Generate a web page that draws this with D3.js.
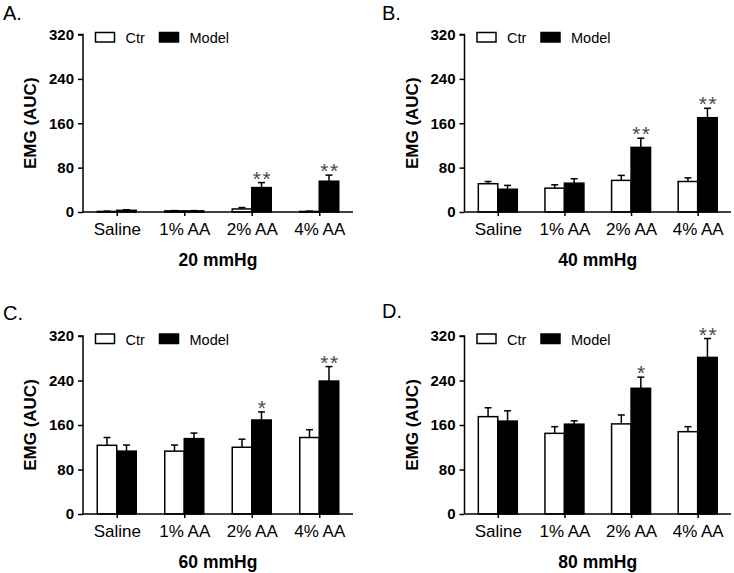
<!DOCTYPE html>
<html>
<head>
<meta charset="utf-8">
<script src="https://cdn.jsdelivr.net/npm/d3@7"></script>
<style>
  body { margin: 0; background: #fff; }
  svg { display: block; font-family: "Liberation Sans", Arial, sans-serif; }
</style>
</head>
<body>
<div id="chart"></div>
<script>
// data
const categories = ['Saline', '1% AA', '2% AA', '4% AA'];
const panelLetters = ['A.', 'B.', 'C.', 'D.'];
const pressures = ['20 mmHg', '40 mmHg', '60 mmHg', '80 mmHg'];
const yTicks = [0, 80, 160, 240, 320];

const ctrMean = [[1, 2, 5.5, 1], [51, 43, 57, 55], [123.5, 113, 120, 137.5], [175, 145, 162, 148]];
const ctrSem = [[0.5, 0.5, 2.5, 0.5], [4, 6, 9, 6.5], [14, 11, 14.5, 14], [16, 12, 16, 9]];
const modelMean = [[3, 2, 44, 55.5], [41, 52, 116.5, 170], [113, 135.5, 169, 239], [167, 161.5, 226, 281.5]];
const modelSem = [[1, 0.5, 9, 11], [7, 8, 16.5, 17], [11, 10, 14.5, 26], [18.5, 6, 20, 34]];
const modelStars = [['', '', '**', '**'], ['', '', '**', '**'], ['', '', '*', '**'], ['', '', '*', '**']];

const W = 734, H = 573;
const barW = 19.5;

// panel frames: left axis x, right end of x axis, y of 0 and 320
const frames = [
    {x0: 83, x1: 353, yb: 212, yt: 34.5, lx: 3, ly: 20},
    {x0: 464.5, x1: 731, yb: 212, yt: 34.5, lx: 382, ly: 20},
    {x0: 83, x1: 353, yb: 514, yt: 336, lx: 3, ly: 320},
    {x0: 464.5, x1: 731, yb: 514, yt: 336, lx: 382, ly: 318}
];

const svg = d3.select('#chart').append('svg')
    .attr('width', W)
    .attr('height', H);

frames.forEach((f, p) => {
    const g = svg.append('g');

    const x = d3.scalePoint().domain(categories).range([f.x0, f.x1]).padding(0.5);
    const y = d3.scaleLinear().domain([0, 320]).range([f.yb, f.yt]);

    g.append('text')
        .attr('x', f.lx).attr('y', f.ly)
        .attr('font-size', 20)
        .text(panelLetters[p]);

    // bars
    const rows = categories.map((c, i) => ({
        cat: c,
        series: [
            {name: 'ctr', v: ctrMean[p][i], e: ctrSem[p][i], off: -barW},
            {name: 'model', v: modelMean[p][i], e: modelSem[p][i], off: 0}
        ],
        star: modelStars[p][i]
    }));

    const grp = g.selectAll('g.cat')
        .data(rows)
        .enter().append('g')
        .attr('class', 'cat');

    const flat = d => d.series.map(s => Object.assign({cat: d.cat}, s));

    grp.selectAll('line.err')
        .data(flat)
        .enter().append('line')
        .attr('x1', d => x(d.cat) + d.off + barW / 2)
        .attr('x2', d => x(d.cat) + d.off + barW / 2)
        .attr('y1', d => y(d.v))
        .attr('y2', d => y(d.v + d.e))
        .attr('stroke', '#000').attr('stroke-width', 1.5);

    grp.selectAll('line.cap')
        .data(flat)
        .enter().append('line')
        .attr('x1', d => x(d.cat) + d.off + barW / 2 - 3.5)
        .attr('x2', d => x(d.cat) + d.off + barW / 2 + 3.5)
        .attr('y1', d => y(d.v + d.e))
        .attr('y2', d => y(d.v + d.e))
        .attr('stroke', '#000').attr('stroke-width', 1.5);

    grp.selectAll('rect')
        .data(flat)
        .enter().append('rect')
        .attr('x', d => x(d.cat) + d.off)
        .attr('y', d => y(d.v))
        .attr('width', barW)
        .attr('height', d => y(0) - y(d.v))
        .attr('fill', d => d.name === 'ctr' ? '#fff' : '#000')
        .attr('stroke', '#000')
        .attr('stroke-width', 1.5);

    grp.filter(d => d.star)
        .append('text')
        .attr('x', d => x(d.cat) + barW / 2 + 1)
        .attr('y', d => y(d.series[1].v + d.series[1].e) + 3)
        .attr('text-anchor', 'middle')
        .attr('font-size', 21)
        .attr('letter-spacing', 1.5)
        .attr('fill', '#4a4a4a')
        .text(d => d.star);

    // y axis
    const yAxis = g.append('g')
        .attr('transform', `translate(${f.x0},0)`)
        .call(d3.axisLeft(y).tickValues(yTicks).tickSize(5).tickPadding(4));
    yAxis.select('.domain').attr('stroke-width', 1.5).attr('d', `M-5,${f.yt}H0V${f.yb}`);
    yAxis.selectAll('.tick line').attr('stroke-width', 1.5);
    yAxis.selectAll('.tick text')
        .attr('font-family', '"Liberation Sans", Arial, sans-serif')
        .attr('font-size', 15)
        .attr('font-weight', 'bold')
        .attr('fill', '#000');

    // x axis
    const xAxis = g.append('g')
        .attr('transform', `translate(0,${f.yb})`)
        .call(d3.axisBottom(x).tickSize(4).tickPadding(7));
    xAxis.select('.domain').attr('stroke-width', 1.5).attr('d', `M${f.x0},0H${f.x1}`);
    xAxis.selectAll('.tick line').attr('stroke-width', 1.5);
    xAxis.selectAll('.tick text')
        .attr('font-family', '"Liberation Sans", Arial, sans-serif')
        .attr('font-size', 17)
        .attr('fill', '#000');

    // axis titles
    g.append('text')
        .attr('transform', `translate(${f.x0 - 47},${(f.yb + f.yt) / 2}) rotate(-90)`)
        .attr('text-anchor', 'middle')
        .attr('font-size', 17)
        .attr('font-weight', 'bold')
        .text('EMG (AUC)');

    g.append('text')
        .attr('x', (f.x0 + f.x1) / 2)
        .attr('y', f.yb + 54)
        .attr('text-anchor', 'middle')
        .attr('font-size', 17.5)
        .attr('font-weight', 'bold')
        .text(pressures[p]);

    // legend
    const leg = g.append('g').attr('transform', `translate(${f.x0 + 12.5},${f.yt - 2})`);
    [{label: 'Ctr', fill: '#fff', dx: 0}, {label: 'Model', fill: '#000', dx: 64}].forEach(l => {
        leg.append('rect')
            .attr('x', l.dx).attr('y', 0)
            .attr('width', 19).attr('height', 9.5)
            .attr('fill', l.fill).attr('stroke', '#000').attr('stroke-width', 1.5);
        leg.append('text')
            .attr('x', l.dx + 30).attr('y', 10.5)
            .attr('font-size', 14.5)
            .text(l.label);
    });
});
</script>
</body>
</html>
